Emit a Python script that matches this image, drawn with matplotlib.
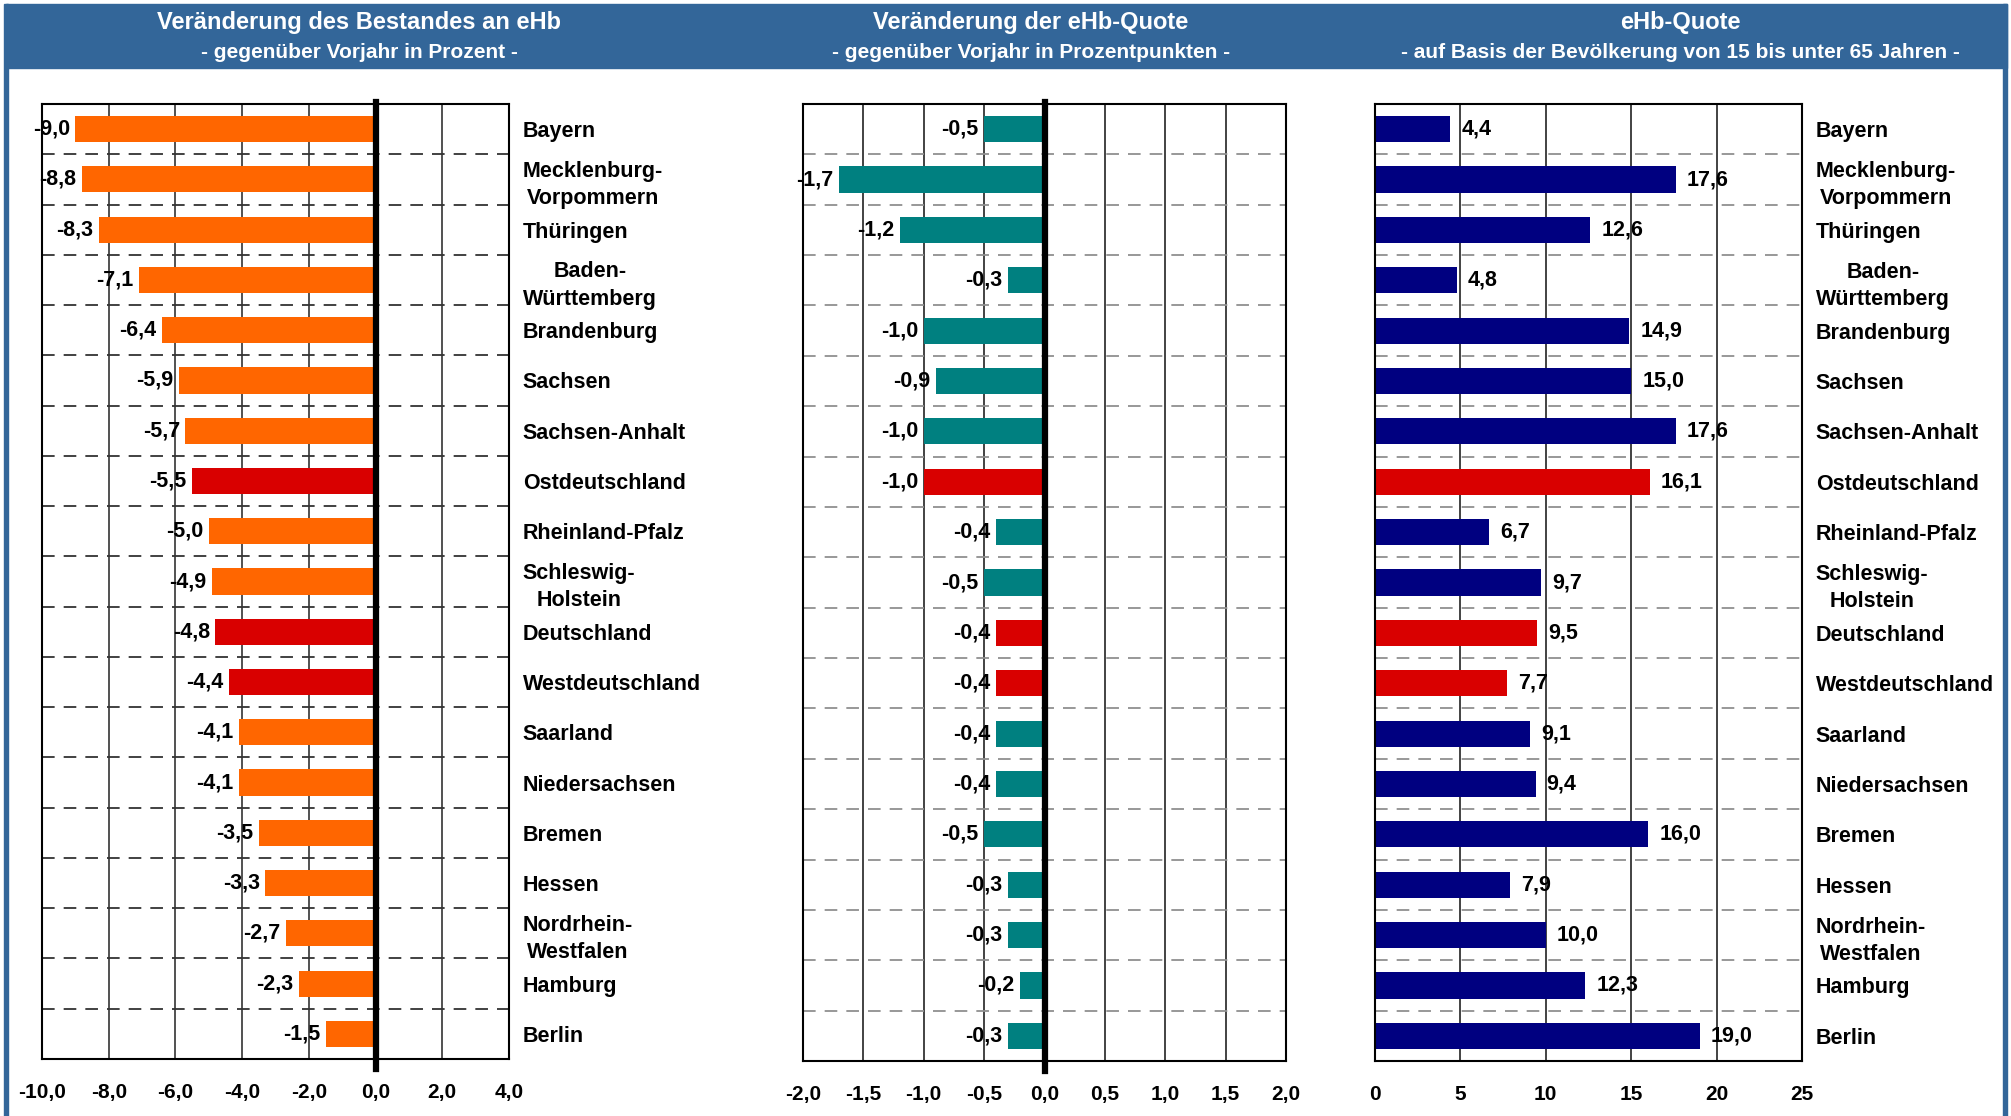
import matplotlib
matplotlib.use("Agg")
import matplotlib.pyplot as plt
from matplotlib.patches import Rectangle

plt.rcParams['font.family'] = ['Liberation Sans', 'DejaVu Sans']
plt.rcParams['font.weight'] = 'bold'

laender = ["Bayern", "Mecklenburg-\nVorpommern", "Thüringen", "Baden-\nWürttemberg",
           "Brandenburg", "Sachsen", "Sachsen-Anhalt", "Ostdeutschland",
           "Rheinland-Pfalz", "Schleswig-\nHolstein", "Deutschland", "Westdeutschland",
           "Saarland", "Niedersachsen", "Bremen", "Hessen", "Nordrhein-\nWestfalen",
           "Hamburg", "Berlin"]
bestand_aenderung = [-9.0, -8.8, -8.3, -7.1, -6.4, -5.9, -5.7, -5.5, -5.0, -4.9,
                     -4.8, -4.4, -4.1, -4.1, -3.5, -3.3, -2.7, -2.3, -1.5]
quote_aenderung = [-0.5, -1.7, -1.2, -0.3, -1.0, -0.9, -1.0, -1.0, -0.4, -0.5,
                   -0.4, -0.4, -0.4, -0.4, -0.5, -0.3, -0.3, -0.2, -0.3]
quote = [4.4, 17.6, 12.6, 4.8, 14.9, 15.0, 17.6, 16.1, 6.7, 9.7,
         9.5, 7.7, 9.1, 9.4, 16.0, 7.9, 10.0, 12.3, 19.0]
summen = ["Ostdeutschland", "Deutschland", "Westdeutschland"]

ticks_links = [-10, -8, -6, -4, -2, 0, 2, 4]
ticks_mitte = [-2.0, -1.5, -1.0, -0.5, 0.0, 0.5, 1.0, 1.5, 2.0]
ticks_rechts = [0, 5, 10, 15, 20, 25]

BLAU = '#336699'
ROT = '#d90000'

W, H = 2011, 1116
fig = plt.figure(figsize=(W / 100, H / 100), dpi=100)


def px_axes(x0, x1, y0, y1):
    return fig.add_axes([x0 / W, 1 - y1 / H, (x1 - x0) / W, (y1 - y0) / H])


def fmt(v, nachkomma=1):
    return f"{v:.{nachkomma}f}".replace('.', ',')


def panel(ax, werte, farbe, ticks, tick_fmt, dash_col, grid_col, labels=True, nulllinie=True):
    n = len(werte)
    y = list(range(n))
    farben = [ROT if l in summen else farbe for l in laender]
    ax.set_axisbelow(True)
    ax.barh(y, werte, height=0.52, color=farben, zorder=2)
    ax.set_xlim(ticks[0], ticks[-1])
    ax.set_ylim(n - 0.5, -0.5)
    ax.set_xticks(ticks)
    ax.set_xticklabels([tick_fmt(t) for t in ticks], fontsize=15, fontweight='bold')
    ax.tick_params(axis='x', length=0, pad=17)
    ax.grid(axis='x', color=grid_col, lw=1.2, zorder=0)
    for k in range(n - 1):
        ax.axhline(k + 0.5, color=dash_col, lw=1.3, dashes=(7, 5), zorder=1)
    if labels:
        ax.set_yticks(y)
        ax.set_yticklabels(laender, fontsize=15.5, fontweight='bold', ha='left',
                           multialignment='center', linespacing=1.4)
        ax.yaxis.set_ticks_position('right')
        ax.tick_params(axis='y', length=0, pad=10)
    else:
        ax.set_yticks([])
    for s in ax.spines.values():
        s.set_color('black')
        s.set_linewidth(1.5)
    if nulllinie:
        ax.axvline(0, ymin=-0.01, ymax=1.002, color='black', lw=4.5, zorder=3, clip_on=False)
    for i, v in enumerate(werte):
        off = -4 if v < 0 else 8
        ax.annotate(fmt(v), xy=(v, i), xytext=(off, 0), textcoords='offset points',
                    ha='right' if v < 0 else 'left', va='center',
                    fontsize=15.5, fontweight='bold', zorder=4)


ax1 = px_axes(42, 509, 104, 1059)
panel(ax1, bestand_aenderung, '#ff6600', ticks_links, lambda t: fmt(t),
      '#333333', '#333333')

ax2 = px_axes(803, 1286, 104, 1061)
panel(ax2, quote_aenderung, '#008080', ticks_mitte, lambda t: fmt(t),
      '#909090', '#222222', labels=False)

ax3 = px_axes(1375, 1802, 104, 1061)
panel(ax3, quote, '#000080', ticks_rechts, lambda t: str(t),
      '#909090', '#222222', nulllinie=False)

# Kopfzeile und Rahmen
fig.patches.append(Rectangle((6 / W, 1 - 68 / H), (2001 / W), 64 / H,
                             transform=fig.transFigure, color=BLAU, zorder=0))
fig.patches.append(Rectangle((4 / W, 0), 4 / W, 1 - 4 / H,
                             transform=fig.transFigure, color=BLAU, zorder=0))
fig.patches.append(Rectangle((2003 / W, 0), 4 / W, 1 - 4 / H,
                             transform=fig.transFigure, color=BLAU, zorder=0))

titel = [(359, "Veränderung des Bestandes an eHb", "- gegenüber Vorjahr in Prozent -"),
         (1031, "Veränderung der eHb-Quote", "- gegenüber Vorjahr in Prozentpunkten -"),
         (1680, "eHb-Quote", "- auf Basis der Bevölkerung von 15 bis unter 65 Jahren -")]
for x, t1, t2 in titel:
    fig.text(x / W, 1 - 23 / H, t1, color='white', fontsize=17, fontweight='bold',
             ha='center', va='center')
    fig.text(x / W, 1 - 53 / H, t2, color='white', fontsize=15, fontweight='bold',
             ha='center', va='center')

fig.savefig('out.png', dpi=100, facecolor='white')
